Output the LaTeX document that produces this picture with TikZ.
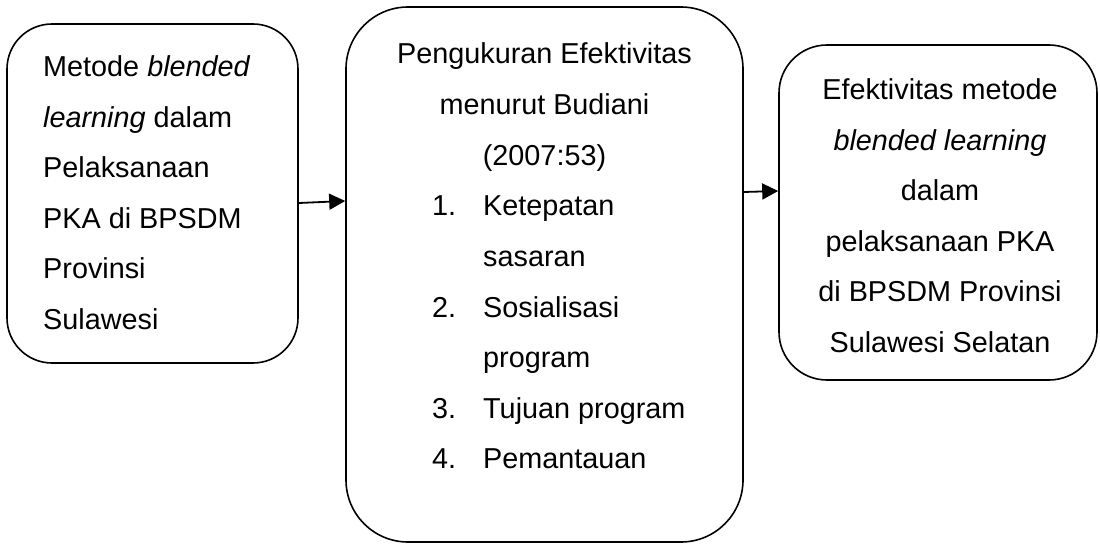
\documentclass[tikz,border=0pt]{standalone}
\usepackage{fontspec}
\setmainfont{Liberation Sans}
\usetikzlibrary{arrows.meta,calc}
\begin{document}
\begin{tikzpicture}[x=1pt,y=-1pt,
  box/.style={draw=black, line width=1.6pt, fill=white, inner sep=0pt},
  txt/.style={inner sep=0pt, font=\fontsize{28.8}{34}\selectfont},
  arr/.style={line width=1.8pt, -{Triangle[length=16pt,width=16pt]}}]
\useasboundingbox (0,0) rectangle (1100,545);
% boxes
\node[box, minimum width=291pt, minimum height=339pt, rounded corners=45pt] (L) at (152.5,193.5) {};
\node[box, minimum width=397pt, minimum height=535pt, rounded corners=62pt] (M) at (544.5,274.5) {};
\node[box, minimum width=318pt, minimum height=335pt, rounded corners=48pt] (R) at (938,212.5) {};
% left text
\foreach \t [count=\i from 0] in {{Metode \textit{blended}},{\textit{learning} dalam},{Pelaksanaan},{PKA di BPSDM},{Provinsi},{Sulawesi}}
  \node[txt, anchor=base west] (lt\i) at (43,77+50.4*\i) {\t};
% middle heading
\foreach \t [count=\i from 0] in {{Pengukuran Efektivitas},{menurut Budiani},{(2007:53)}}
  \node[txt, anchor=base] (mh\i) at (544.5,64+50.6*\i) {\t};
% middle list numbers
\foreach \n/\k in {1/0,2/2,3/4,4/5}
  \node[txt, anchor=base west] (mn\n) at (432,216+50.5*\k) {\n.};
% middle list items
\foreach \t [count=\i from 0] in {{Ketepatan},{sasaran},{Sosialisasi},{program},{Tujuan program},{Pemantauan}}
  \node[txt, anchor=base west] (mi\i) at (483,216+50.5*\i) {\t};
% right text
\foreach \t [count=\i from 0] in {{Efektivitas metode},{\textit{blended learning}},{dalam},{pelaksanaan PKA},{di BPSDM Provinsi},{Sulawesi Selatan}}
  \node[txt, anchor=base] (rt\i) at (940,100+50.4*\i) {\t};
% arrows
\draw[arr] ($(L.east)+(0,9.5)$) -- ($(M.west)+(0,-73.5)$);
\draw[arr] ($(M.east)+(0,-82.5)$) -- ($(R.west)+(0,-21.5)$);
\end{tikzpicture}
\end{document}
